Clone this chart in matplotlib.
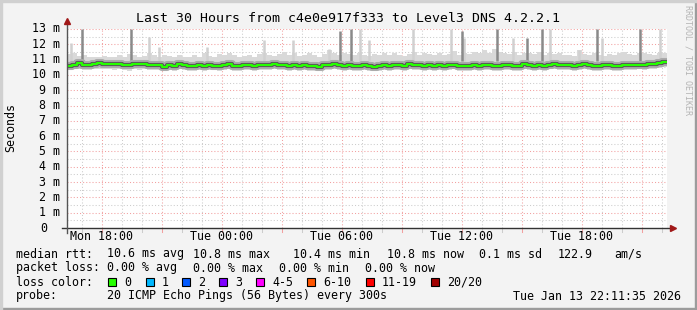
import matplotlib
matplotlib.use("Agg")
import matplotlib.pyplot as plt
from matplotlib.patches import Rectangle
import numpy as np

plt.rcParams['font.family'] = ['DejaVu Sans Mono']

# time axis: hours since Mon 00:00, one sample every 15 min
t_start = 16.25
t_step = 0.25

median_ms = [
    10.58, 10.68, 10.75, 10.68, 10.62, 10.70, 10.76, 10.74, 10.74, 10.74,
    10.72, 10.66, 10.62, 10.72, 10.72, 10.70, 10.62, 10.66, 10.64, 10.55,
    10.62, 10.58, 10.70, 10.66, 10.60, 10.56, 10.64, 10.58, 10.66, 10.60,
    10.56, 10.62, 10.70, 10.60, 10.56, 10.64, 10.66, 10.58, 10.62, 10.68,
    10.64, 10.70, 10.62, 10.66, 10.60, 10.64, 10.58, 10.66, 10.56, 10.60,
    10.54, 10.62, 10.66, 10.72, 10.68, 10.60, 10.64, 10.58, 10.56, 10.62,
    10.58, 10.54, 10.60, 10.66, 10.58, 10.64, 10.66, 10.60, 10.70, 10.64,
    10.62, 10.58, 10.64, 10.60, 10.66, 10.58, 10.62, 10.68, 10.60, 10.56,
    10.58, 10.62, 10.56, 10.64, 10.66, 10.60, 10.58, 10.62, 10.64, 10.56,
    10.60, 10.70, 10.62, 10.58, 10.66, 10.60, 10.68, 10.72, 10.66, 10.62,
    10.62, 10.58, 10.66, 10.70, 10.66, 10.60, 10.58, 10.64, 10.62, 10.58,
    10.56, 10.64, 10.66, 10.62, 10.68, 10.66, 10.70, 10.74, 10.78, 10.84,
]

smoke_hi = [
    11.35, 11.45, 11.25, 11.30, 11.20, 11.15, 11.20, 11.25, 11.15, 11.20,
    11.30, 11.20, 11.35, 11.30, 11.20, 11.25, 11.40, 11.30, 11.20, 11.30,
    11.25, 11.20, 11.30, 11.20, 11.15, 11.30, 11.20, 11.40, 11.25, 11.20,
    11.35, 11.30, 11.45, 11.30, 11.20, 11.25, 11.30, 11.20, 11.35, 11.40,
    11.30, 11.25, 11.35, 11.50, 11.30, 11.40, 11.25, 11.30, 11.45, 11.30,
    11.20, 11.35, 11.60, 11.40, 11.30, 11.45, 11.35, 11.30, 11.40, 11.30,
    11.25, 11.35, 11.30, 11.45, 11.30, 11.40, 11.30, 11.25, 11.35, 11.50,
    11.30, 11.40, 11.35, 11.30, 11.45, 11.30, 11.35, 11.55, 11.30, 11.40,
    11.35, 11.50, 11.40, 11.60, 11.45, 11.70, 11.50, 11.40, 11.35, 11.50,
    11.30, 11.45, 11.40, 11.35, 11.50, 11.30, 11.40, 11.35, 11.45, 11.30,
    11.30, 11.25, 11.60, 11.35, 11.30, 11.40, 11.30, 11.25, 11.35, 11.30,
    11.45, 11.50, 11.35, 11.30, 11.40, 11.45, 11.35, 11.30, 11.40, 11.45,
]

smoke_lo = [
    10.32, 10.36, 10.40, 10.34, 10.30, 10.38, 10.40, 10.36, 10.38, 10.34,
    10.36, 10.30, 10.28, 10.36, 10.34, 10.38, 10.30, 10.32, 10.30, 10.26,
    10.30, 10.28, 10.36, 10.32, 10.28, 10.26, 10.32, 10.28, 10.34, 10.30,
    10.26, 10.30, 10.36, 10.28, 10.26, 10.32, 10.34, 10.28, 10.30, 10.34,
    10.32, 10.36, 10.30, 10.34, 10.28, 10.32, 10.26, 10.34, 10.26, 10.28,
    10.24, 10.30, 10.34, 10.38, 10.34, 10.28, 10.32, 10.26, 10.26, 10.30,
    10.28, 10.24, 10.28, 10.34, 10.26, 10.32, 10.34, 10.28, 10.36, 10.32,
    10.30, 10.26, 10.32, 10.28, 10.34, 10.26, 10.30, 10.36, 10.28, 10.24,
    10.26, 10.30, 10.24, 10.32, 10.34, 10.28, 10.26, 10.30, 10.32, 10.24,
    10.28, 10.36, 10.30, 10.26, 10.34, 10.28, 10.36, 10.38, 10.34, 10.30,
    10.30, 10.26, 10.34, 10.36, 10.34, 10.28, 10.26, 10.32, 10.30, 10.26,
    10.24, 10.32, 10.34, 10.30, 10.36, 10.34, 10.38, 10.40, 10.44, 10.50,
]

# single high pings (hour, ms)
faint_spike_h = [16.45, 20.35, 20.85, 23.25, 26.1, 27.55, 29.35, 30.9, 31.35,
                 33.55, 35.45, 36.1, 38.55, 40.4, 41.85, 43.0, 45.9]
faint_spike_ms = [12.1, 12.5, 11.85, 11.85, 12.3, 12.3, 11.7, 13.0, 12.3,
                  13.0, 13.0, 12.4, 12.4, 13.0, 11.6, 12.4, 13.0]
strong_spike_h = [17.0, 19.45, 29.9, 30.45, 36.0, 37.75, 39.25, 40.0, 42.75, 44.9]
strong_spike_ms = [13.0, 13.0, 12.9, 13.0, 12.9, 13.0, 12.4, 13.0, 13.0, 13.0]

y_ticks = list(range(14))
y_labels = ["0"] + ["%d m" % v for v in range(1, 14)]
x_label_hours = [18, 24, 30, 36, 42]
x_labels = ["Mon 18:00", "Tue 00:00", "Tue 06:00", "Tue 12:00", "Tue 18:00"]

loss_names = ["0", "1", "2", "3", "4-5", "6-10", "11-19", "20/20"]
loss_colors = ['#26ff00', '#00b8ff', '#0059ff', '#7e00ff', '#ff00ff',
               '#ff5500', '#ff0000', '#a00000']

W, H = 697, 310
fig = plt.figure(figsize=(W / 100, H / 100), dpi=100, facecolor='#f3f3f3')
ax = fig.add_axes([67 / W, 82 / H, 600 / W, 199 / H])
ax.set_facecolor('white')

n = len(median_ms)
edges = t_start + t_step * np.arange(n + 1)
ax.set_xlim(edges[0], edges[-1])
ax.set_ylim(0, 13)

# grid
for h in np.arange(17, 47):
    c = '#f2a0a0' if h % 3 == 0 else '#cccccc'
    ax.axvline(h, color=c, lw=0.75, ls=(0, (1, 2)), zorder=0)
    ax.plot([h, h], [-4 / 199, 0], transform=ax.get_xaxis_transform(), color=c,
            lw=0.75, clip_on=False, zorder=0)
for v in np.arange(0.5, 13.01, 0.5):
    c = '#f2a0a0' if v % 1 == 0 else '#cccccc'
    ax.axhline(v, color=c, lw=0.75, ls=(0, (1, 2)), zorder=0)

# smoke
ax.stairs(smoke_hi, edges, baseline=smoke_lo, fill=True, color='#d9d9d9', zorder=2)
ax.vlines(faint_spike_h, 10.9, faint_spike_ms, color='#d0d0d0', lw=1.8, zorder=2)
ax.vlines(strong_spike_h, 10.9, strong_spike_ms, color='#8a8a8a', lw=1.8, zorder=3)

med_y = np.append(median_ms, median_ms[-1])
ax.step(edges, med_y, where='post', color='#ababab', lw=5.8, zorder=4)
ax.step(edges, med_y, where='post', color='#5a5a5a', lw=3.0, zorder=5)
ax.step(edges, med_y, where='post', color='#26ff00', lw=1.5, zorder=6)

# axes
for s in ax.spines.values():
    s.set_visible(False)
ax.set_xticks([])
ax.set_yticks([])
ax.plot([-5 / 600, 1 + 5 / 600], [0, 0], transform=ax.transAxes, color='#333333',
        lw=1, clip_on=False, zorder=7)
ax.plot([0, 0], [-5 / 199, 1 + 7 / 199], transform=ax.transAxes, color='#555555',
        lw=1, clip_on=False, zorder=7)
ax.plot([1 + 6 / 600], [0], marker='>', ms=4, color='#a01818', transform=ax.transAxes,
        clip_on=False, zorder=8)
ax.plot([0], [1 + 8 / 199], marker='^', ms=4, color='#a01818', transform=ax.transAxes,
        clip_on=False, zorder=8)

fs = 8.4
ytr = ax.get_yaxis_transform()
for v, lab in zip(y_ticks, y_labels):
    xoff = -7 / 600 if v > 0 else -20 / 600
    ax.text(xoff, v, lab, transform=ytr, ha='right', va='center', fontsize=fs)
xtr = ax.get_xaxis_transform()
for h, lab in zip(x_label_hours, x_labels):
    ax.text(h, -9 / 199, lab, transform=xtr, ha='center', va='center', fontsize=fs)


def px(x, y):
    return x / W, 1 - y / H


fig.text(*px(348, 19), "Last 30 Hours from c4e0e917f333 to Level3 DNS 4.2.2.1",
         ha='center', va='center', fontsize=9.5)
fig.text(*px(11, 128), "Seconds", rotation=90, ha='center', va='center', fontsize=fs)
fig.text(*px(688, 60), "RRDTOOL / TOBI OETIKER", rotation=270, ha='center',
         va='center', fontsize=6, color='#b4b4b4')

rows = [
    (254, [(16, "median rtt:"), (107, "10.6 ms avg"), (193, "10.8 ms max"),
           (293, "10.4 ms min"), (387, "10.8 ms now"), (479, "0.1 ms sd"),
           (558, "122.9"), (614, "am/s")]),
    (268, [(16, "packet loss:"), (107, "0.00 % avg"), (193, "0.00 % max"),
           (279, "0.00 % min"), (365, "0.00 % now")]),
    (296, [(16, "probe:"), (107, "20 ICMP Echo Pings (56 Bytes) every 300s"),
           (513, "Tue Jan 13 22:11:35 2026")]),
]
for y, items in rows:
    for x, s in items:
        fig.text(*px(x, y), s, ha='left', va='center', fontsize=fs)

fig.text(*px(16, 282), "loss color:", ha='left', va='center', fontsize=fs)
box_x = [108, 146, 182, 219, 256, 307, 366, 431]
for bx, name, col in zip(box_x, loss_names, loss_colors):
    fig.add_artist(Rectangle(px(bx, 286), 8 / W, 8 / H, transform=fig.transFigure,
                             facecolor=col, edgecolor='black', lw=0.8))
    fig.text(*px(bx + 16, 282), name, ha='left', va='center', fontsize=fs)

# frame shading
fig.add_artist(Rectangle((0, 0), 1, 2 / H, transform=fig.transFigure, color='#9c9c9c'))
fig.add_artist(Rectangle((1 - 2 / W, 0), 2 / W, 1, transform=fig.transFigure, color='#9c9c9c'))
fig.add_artist(Rectangle((0, 1 - 2 / H), 1, 2 / H, transform=fig.transFigure, color='#d0d0d0'))
fig.add_artist(Rectangle((0, 0), 2 / W, 1, transform=fig.transFigure, color='#d0d0d0'))

fig.savefig("out.png", dpi=100, facecolor=fig.get_facecolor())
